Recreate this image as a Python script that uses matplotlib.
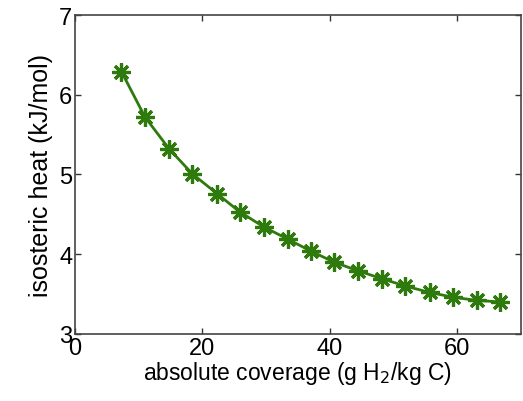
import matplotlib.pyplot as plt

# isosteric heat vs absolute coverage
coverage = [7.3, 11.0, 14.8, 18.4, 22.3, 25.9, 29.7, 33.4, 37.0, 40.7,
            44.5, 48.3, 51.9, 55.7, 59.4, 63.1, 66.8]
heat = [6.29, 5.72, 5.32, 5.01, 4.76, 4.53, 4.34, 4.19, 4.04, 3.90,
        3.79, 3.69, 3.60, 3.52, 3.46, 3.42, 3.40]
x_ticks = [0, 20, 40, 60]
y_ticks = [3, 4, 5, 6, 7]

plt.rcParams['font.family'] = ['Liberation Sans', 'DejaVu Sans']

fig = plt.figure(figsize=(5.23, 4.02), dpi=100)
ax = fig.add_axes([0.1434, 0.167, 0.852, 0.793])

ax.plot(coverage, heat, color='#2e7a0c', linewidth=2,
        marker=(8, 2, 0), markersize=13, markeredgewidth=2.3)

ax.set_xlim(0, 70)
ax.set_ylim(3, 7)
ax.set_xticks(x_ticks)
ax.set_yticks(y_ticks)
ax.tick_params(direction='in', top=True, right=True, labelsize=17,
               length=4, width=1, colors='#333333', labelcolor='black', pad=2)
for s in ax.spines.values():
    s.set_color('#444444')
    s.set_linewidth(1.2)

ax.set_xlabel('absolute coverage (g H$_2$/kg C)', fontsize=16.5, labelpad=0)
ax.set_ylabel('isosteric heat (kJ/mol)', fontsize=18, labelpad=4)

fig.savefig('out.png', dpi=100)
